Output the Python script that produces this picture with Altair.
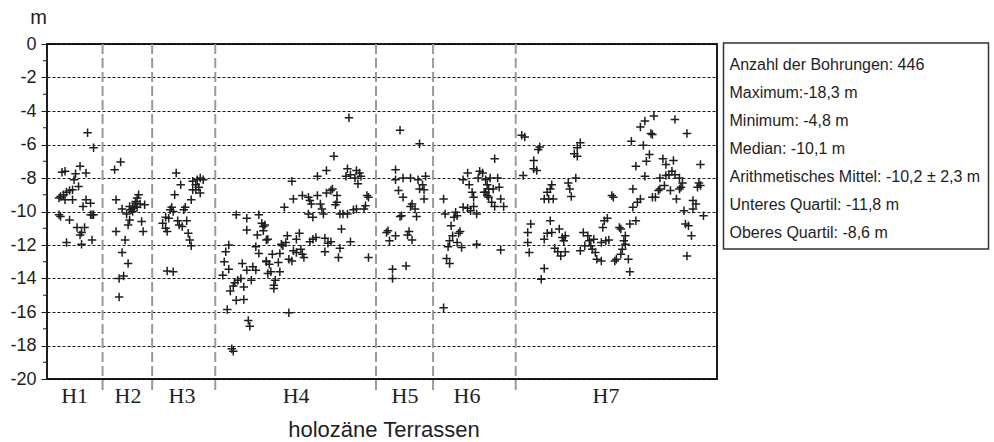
import altair as alt
import pandas as pd

# ---------------- data ----------------
terrassen = ["H1", "H2", "H3", "H4", "H5", "H6", "H7"]
grenzen = [37, 70, 112, 219, 257, 312]          # borehole number where a terrace ends
label_pos = [18.4, 53.9, 89.9, 165.8, 238.3, 279.6, 372.1]

h1_nr = [27, 31, 10, 12, 22, 19, 26, 18, 21, 17, 15, 13, 11, 9, 8, 12, 17, 26, 29, 24,
         29, 30, 31, 8, 9, 15, 20, 25, 23, 22, 13, 23, 30]
h1_m = [-5.3, -6.2, -7.65, -7.6, -7.3, -7.75, -7.7, -8.1, -8.5, -8.7, -8.75, -8.85, -9.0, -9.1,
        -9.2, -9.3, -9.3, -9.3, -9.5, -9.7, -10.2, -10.2, -10.2, -10.2, -10.3, -10.5, -10.95,
        -10.95, -11.25, -11.4, -11.85, -11.95, -11.7]

h2_nr = [49, 45, 46, 61, 60, 59, 62, 65, 50, 55, 57, 56, 53, 55, 54, 63, 64, 46, 52, 50,
         54, 51, 48, 48, 58, 60, 57, 59]
h2_m = [-7.05, -7.5, -9.3, -9.0, -9.2, -9.5, -9.55, -9.6, -9.85, -9.7, -9.8, -9.9, -10.15,
        -10.5, -10.8, -10.6, -11.2, -11.2, -11.7, -12.45, -13.1, -13.85, -14.0, -15.1,
        -9.7, -9.75, -10.0, -9.4]

h3_nr = [86, 89, 97, 100, 102, 104, 99, 101, 102, 97, 99, 85, 96, 83, 82, 92, 91, 79, 77,
         79, 80, 87, 88, 90, 93, 94, 95, 96, 80, 84, 84, 81]
h3_m = [-7.7, -8.4, -8.2, -8.1, -8.0, -8.1, -8.4, -8.55, -8.9, -8.7, -8.7, -9.0, -9.3, -9.75,
        -9.9, -9.75, -9.9, -10.35, -10.7, -11.0, -11.2, -10.55, -10.8, -10.9, -10.55, -11.3,
        -11.7, -12.05, -13.55, -13.6, -10.0, -10.4]

h4_nr = [126, 133, 141, 133, 143, 144, 145, 144, 140, 146, 121, 119, 139, 141, 118, 130,
         121, 117, 133, 137, 139, 136, 146, 147, 127, 129, 125, 124, 122, 131, 126, 131,
         120, 134, 135, 123, 124,
         201, 191, 186, 180, 163, 200, 199, 202, 206, 208, 205, 209, 207, 164, 170, 174,
         175, 180, 176, 186, 189, 190, 193, 193, 192, 182, 183, 184, 213, 214, 158, 174,
         177, 195, 197, 200, 204, 206, 211, 212, 196, 147, 160, 159, 157, 156, 168, 166,
         177, 179, 175, 185, 189, 187, 202, 195, 194, 185, 214, 164, 166, 169, 170, 171,
         163, 161, 155, 150, 146, 148, 154, 149, 155, 152, 151, 151, 161]
h4_m = [-10.2, -10.4, -10.2, -11.1, -10.7, -10.9, -10.8, -11.15, -11.4, -11.7, -12.0, -12.4,
        -12.1, -12.5, -13.0, -13.1, -13.45, -13.8, -13.5, -13.3, -13.5, -14.1, -13.0, -13.7,
        -14.1, -14.0, -14.25, -14.45, -14.75, -14.5, -15.3, -15.25, -15.85, -16.5, -16.85,
        -18.2, -18.35,
        -4.4, -6.7, -7.55, -7.9, -8.2, -7.45, -7.9, -7.8, -7.55, -7.7, -8.0, -7.9, -8.35,
        -9.25, -9.05, -9.15, -9.35, -9.05, -9.55, -8.9, -8.75, -8.65, -9.05, -9.45, -9.6,
        -9.55, -9.85, -10.15, -9.05, -9.15, -9.75, -10.15, -10.35, -10.15, -10.15, -10.15,
        -9.9, -9.85, -9.85, -9.65, -11.05, -11.65, -11.45, -11.85, -12.05, -11.95, -11.3,
        -11.65, -11.65, -11.55, -11.8, -11.6, -11.8, -11.9, -11.8, -12.2, -12.75, -12.4,
        -12.75, -12.35, -12.45, -12.25, -12.55, -12.75, -12.95, -12.85, -12.5, -12.55,
        -12.95, -13.15, -13.05, -13.6, -13.6, -14.1, -14.4, -14.6, -16.05]

h5_nr = [235, 248, 232, 232, 237, 242, 247, 252, 250, 248, 251, 234, 237, 251, 243, 242,
         245, 246, 235, 236, 227, 226, 228, 232, 241, 240, 243, 230, 230, 239]
h5_m = [-5.15, -5.95, -7.5, -8.1, -8.0, -8.0, -8.1, -7.9, -8.4, -8.65, -8.7, -8.75, -9.15,
        -9.25, -9.55, -9.7, -9.85, -10.3, -10.3, -10.25, -11.15, -11.25, -11.75, -11.45,
        -11.2, -11.4, -11.7, -13.45, -14.0, -13.25]

h6_nr = [264, 265, 272, 273, 271, 277, 280, 284, 286, 282, 269, 275, 274, 270, 268, 267,
         273, 276, 286, 266, 268, 264, 280, 277, 281, 283, 284, 288, 287, 292, 291, 293,
         294, 298, 290, 295, 300, 293, 297, 301, 292, 294, 296, 298, 302, 304, 302]
h6_m = [-9.25, -10.15, -10.05, -10.25, -10.35, -9.75, -9.8, -9.7, -10.15, -9.95, -10.85,
        -11.2, -11.3, -11.45, -11.75, -12.1, -11.85, -12.15, -11.95, -12.8, -13.1, -15.75,
        -7.7, -8.1, -8.4, -8.85, -9.15, -7.6, -8.0, -8.1, -8.85, -9.05, -8.65, -6.85, -7.7,
        -8.0, -8.0, -8.4, -8.65, -8.55, -8.85, -9.15, -9.45, -9.7, -9.25, -9.7, -12.3]

h7_nr = [316, 318, 328, 327, 324, 324, 326, 317, 355, 353, 351, 353, 352, 347, 348, 349,
         336, 335, 333, 331, 334, 337, 335, 322, 320, 320, 321, 333, 336, 331, 341, 343,
         345, 344, 338, 340, 342, 345, 331, 329, 355, 357, 360, 361, 362, 364, 365, 366,
         363, 358,
         404, 398, 395, 418, 402, 403, 426, 389, 397, 401, 399, 410, 412, 417, 392, 435,
         398, 408, 412, 414, 416, 418, 421, 423, 422, 421, 434, 435, 433, 390, 408, 411,
         407, 405, 415, 419, 376, 377, 395, 393, 390, 403, 430, 432, 430, 424, 437, 373,
         371, 370, 392, 388, 425, 427, 429, 381, 382, 385, 384, 385, 383, 372, 374, 369,
         382, 379, 378, 387, 369, 388, 426]
h7_m = [-5.45, -5.55, -6.15, -6.3, -6.95, -7.45, -7.55, -7.85, -5.9, -6.2, -6.55, -6.7, -8.0,
        -8.3, -8.65, -9.1, -8.4, -8.65, -8.85, -9.25, -9.25, -9.25, -10.55, -10.75, -11.25,
        -11.85, -12.45, -11.3, -11.25, -11.65, -11.05, -11.55, -11.45, -11.75, -12.2, -12.4,
        -12.65, -12.4, -13.4, -14.05, -12.35, -11.25, -11.45, -11.75, -12.05, -11.65,
        -12.45, -12.85, -12.25, -12.05,
        -4.3, -4.6, -4.95, -4.5, -5.35, -5.4, -5.35, -5.8, -6.05, -6.6, -7.0, -6.85, -7.2,
        -6.95, -7.3, -7.2, -7.9, -8.0, -7.85, -7.8, -7.6, -7.8, -8.0, -8.3, -8.55, -8.65,
        -8.3, -8.45, -8.55, -8.65, -8.65, -8.45, -8.75, -9.15, -8.75, -9.25, -9.05, -9.15,
        -9.25, -9.45, -9.75, -9.15, -9.35, -9.55, -9.85, -9.95, -10.25, -10.4, -10.55,
        -10.95, -10.55, -10.75, -10.75, -10.85, -11.45, -10.95, -11.05, -11.45, -11.75,
        -11.95, -12.25, -11.75, -11.7, -11.85, -12.55, -12.85, -12.95, -12.85, -12.95,
        -13.6, -12.65]

stat_lines = [
    "Anzahl der Bohrungen: 446",
    "Maximum:-18,3 m",
    "Minimum: -4,8 m",
    "Median: -10,1 m",
    "Arithmetisches Mittel: -10,2 \u00b1 2,3 m",
    "Unteres Quartil: -11,8 m",
    "Oberes Quartil: -8,6 m",
]
y_major = list(range(0, -21, -2))
y_minor = list(range(-1, -20, -2))

# ---------------- build tables ----------------
groups = [(h1_nr, h1_m), (h2_nr, h2_m), (h3_nr, h3_m), (h4_nr, h4_m),
          (h5_nr, h5_m), (h6_nr, h6_m), (h7_nr, h7_m)]
rows = []
for name, (nrs, ms) in zip(terrassen, groups):
    for n, m in zip(nrs, ms):
        rows.append({"nr": n, "tiefe": m, "terrasse": name})
df = pd.DataFrame(rows)
df_grenzen = pd.DataFrame({"nr": grenzen})
df_labels = pd.DataFrame({"pos": label_pos, "name": terrassen})
df_minor = pd.DataFrame({"tiefe": y_minor})

W, H = 670, 335
FONT = "Liberation Sans"
INK = "#1e1e1e"

xs = alt.Scale(domain=[0, 446], nice=False, zero=False)
ys = alt.Scale(domain=[-20, 0], nice=False, zero=False)

y_axis = alt.Axis(
    values=y_major, grid=True, gridDash=[3, 2], gridColor="#000", gridWidth=0.9,
    gridOpacity=1, tickSize=6, tickColor=INK, tickWidth=1, domain=False,
    labelExpr="toString(datum.value)",
    labelFont=FONT, labelFontSize=18, labelColor=INK, labelPadding=5,
    labelFlush=False, title="m", titleAngle=0, titleX=-9, titleY=-27,
    titleFont=FONT, titleFontSize=20, titleFontWeight="normal", titleColor=INK,
    titleAlign="center", titleBaseline="middle")

points = alt.Chart(df).mark_point(
    shape="M-1,0L1,0M0,-1L0,1", filled=False, stroke=INK, strokeWidth=1.5,
    size=72, opacity=1
).encode(
    x=alt.X("nr:Q", scale=xs, axis=None),
    y=alt.Y("tiefe:Q", scale=ys, axis=y_axis),
)

dividers = alt.Chart(df_grenzen).mark_rule(
    color="#9a9a9a", strokeWidth=2, strokeDash=[10, 4]
).encode(
    x=alt.X("nr:Q", scale=xs, axis=None),
    y=alt.value(0), y2=alt.value(H + 13),
)

minor = alt.Chart(df_minor).mark_rule(color=INK, strokeWidth=1).encode(
    y=alt.Y("tiefe:Q", scale=ys, axis=y_axis),
    x=alt.value(-4), x2=alt.value(0),
)

xlabels = alt.Chart(df_labels).mark_text(
    font="Liberation Serif", fontSize=22, color=INK, baseline="middle", align="center"
).encode(
    x=alt.X("pos:Q", scale=xs, axis=None),
    y=alt.value(H + 17),
    text="name:N",
)

xtitle = alt.Chart(pd.DataFrame({"t": ["holozäne Terrassen"]})).mark_text(
    font=FONT, fontSize=22, color=INK, baseline="middle", align="center"
).encode(x=alt.value(337), y=alt.value(H + 51), text="t:N")

box = alt.Chart(pd.DataFrame({"b": [1]})).mark_rect(
    fill="white", stroke="#333", strokeWidth=1.5
).encode(x=alt.value(676.5), x2=alt.value(941.5), y=alt.value(-1), y2=alt.value(205))

stat_layers = []
for i, line in enumerate(stat_lines):
    stat_layers.append(
        alt.Chart(pd.DataFrame({"t": [line]})).mark_text(
            font=FONT, fontSize=16, color=INK, align="left", baseline="alphabetic"
        ).encode(x=alt.value(682.5), y=alt.value(25.5 + 28 * i), text="t:N")
    )

chart = alt.layer(points, dividers, minor, xlabels, xtitle, box, *stat_layers).properties(
    width=W, height=H,
    padding={"left": 47, "top": 44, "right": 994 - 47 - W, "bottom": 442 - 44 - H},
    autosize=alt.AutoSizeParams(type="none"),
    background="white",
).configure_view(stroke=INK, strokeWidth=2)

chart.save("out.html", embed_options={"renderer": "svg", "actions": False})
